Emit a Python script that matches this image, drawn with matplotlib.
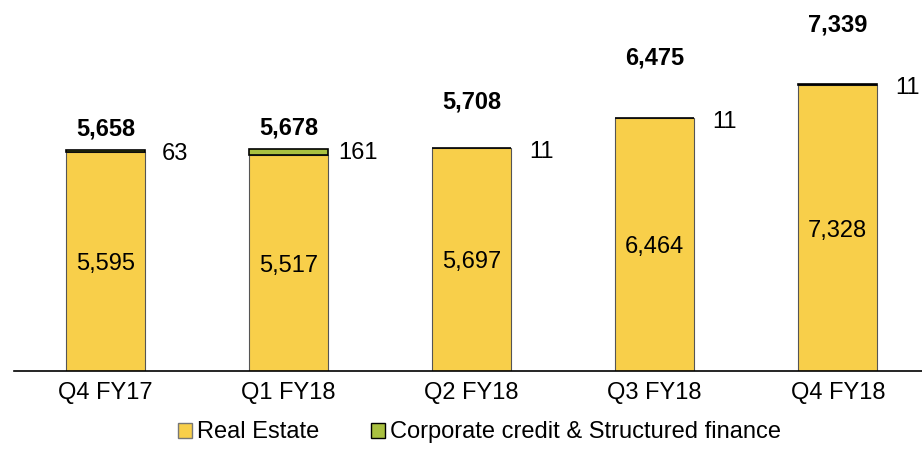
import numpy as np
import matplotlib.pyplot as plt
from matplotlib.patches import Patch

plt.rcParams['font.family'] = ['Liberation Sans', 'DejaVu Sans']

quarters = ['Q4 FY17', 'Q1 FY18', 'Q2 FY18', 'Q3 FY18', 'Q4 FY18']
real_estate = [5595, 5517, 5697, 6464, 7328]
corporate = [63, 161, 11, 11, 11]
totals = [5658, 5678, 5708, 6475, 7339]
# gap (in points) between bar top and the bold total label
total_gap = [7, 7, 25, 35, 34]

yellow = '#F8CF4A'
green = '#A9C040'

fig = plt.figure(figsize=(9.22, 4.49), dpi=100)
ax = fig.add_axes([14 / 922, 78 / 449, 908 / 922, 371 / 449])

x = np.arange(len(quarters))
w = 0.43
ax.bar(x, real_estate, w, color=yellow, edgecolor='#555555', linewidth=0.8)
ax.bar(x, corporate, w, bottom=real_estate, color=green, edgecolor='black', linewidth=1.2)

for i in range(len(quarters)):
    ax.annotate(f'{real_estate[i]:,}', (x[i], real_estate[i] / 2), xytext=(0, -2), textcoords='offset points',
                ha='center', va='center', fontsize=17)
    ax.annotate(f'{corporate[i]}', (x[i] + 0.38, totals[i]), xytext=(0, -3), textcoords='offset points',
                ha='center', va='center', fontsize=17)
    ax.annotate(f'{totals[i]:,}', (x[i], totals[i]), xytext=(0, total_gap[i]), textcoords='offset points',
                ha='center', va='bottom', fontsize=17, fontweight='bold')

ax.set_xlim(-0.5, 4.46)
ax.set_ylim(0, 9490)
ax.set_xticks(x)
ax.set_xticklabels(quarters, fontsize=17)
ax.tick_params(axis='x', length=0, pad=8)
ax.set_yticks([])
for s in ['top', 'right', 'left']:
    ax.spines[s].set_visible(False)
ax.spines['bottom'].set_linewidth(1.2)

handles = [Patch(facecolor=yellow, edgecolor='#777777', label='Real Estate'),
           Patch(facecolor=green, edgecolor='black', label='Corporate credit & Structured finance')]
fig.legend(handles=handles, loc='lower center', bbox_to_anchor=(0.52, -0.035), ncol=2, frameon=False,
           fontsize=17, handlelength=0.6, handleheight=0.6, handletextpad=0.2, columnspacing=2.2)

fig.savefig('out.png', dpi=100)
